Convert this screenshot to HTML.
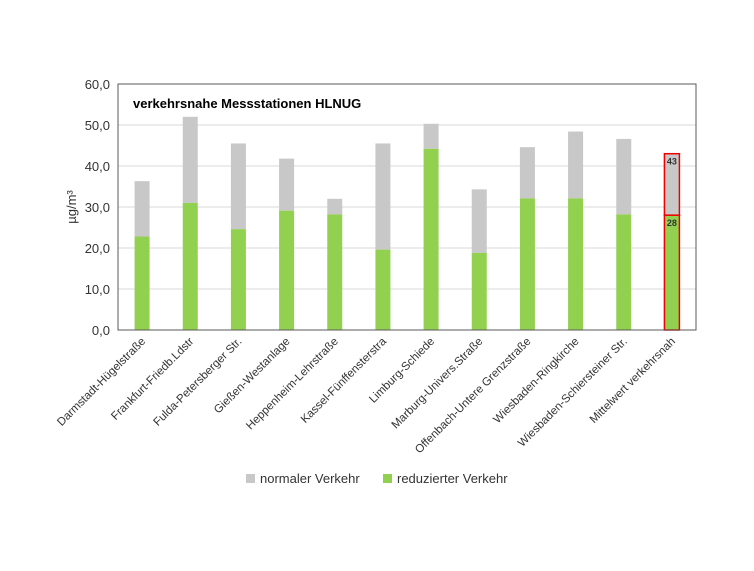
<!DOCTYPE html>
<html><head><meta charset="utf-8"><style>
body{margin:0;background:#fff;font-family:"Liberation Sans",sans-serif}
</style></head><body>
<svg id="c" width="754" height="566" xmlns="http://www.w3.org/2000/svg"></svg>
<script>
const categories=["Darmstadt-Hügelstraße","Frankfurt-Friedb.Ldstr","Fulda-Petersberger Str.","Gießen-Westanlage","Heppenheim-Lehrstraße","Kassel-Fünffensterstra","Limburg-Schiede","Marburg-Univers.Straße","Offenbach-Untere Grenzstraße","Wiesbaden-Ringkirche","Wiesbaden-Schiersteiner Str.","Mittelwert verkehrsnah"];
const normalValues=[36.3,52.0,45.5,41.8,32.0,45.5,50.3,34.3,44.6,48.4,46.6,43];
const reducedValues=[22.8,31.0,24.6,29.1,28.2,19.6,44.2,18.8,32.1,32.1,28.2,28];
const yTicks=["0,0","10,0","20,0","30,0","40,0","50,0","60,0"];
const NS="http://www.w3.org/2000/svg";
const svg=document.getElementById('c');
const L=118,R=696,T=84,B=330,yMax=60;
const y=v=>B-(v/yMax)*(B-T);
const step=(R-L)/categories.length;
const x=i=>L+step*(i+0.5);
function mk(t,a,txt){const e=document.createElementNS(NS,t);for(const k in a)e.setAttribute(k,a[k]);if(txt!==undefined)e.textContent=txt;svg.appendChild(e);return e;}
yTicks.forEach((t,i)=>{const v=i*10;
 const g=mk('line',{x1:L,x2:R,y1:y(v),y2:y(v),stroke:'#d9d9d9','stroke-width':1});
 
 
 const tx=mk('text',{x:L-8,y:y(v)+5,'text-anchor':'end','font-size':13,fill:'#333'},t);
 
 
});
const bw=15;
categories.forEach((c,i)=>{
 const last=i===categories.length-1;
 const g=mk('rect',{x:x(i)-bw/2,y:y(normalValues[i]),width:bw,height:y(reducedValues[i])-y(normalValues[i]),fill:'#c8c8c8',stroke:last?'#e00':'none','stroke-width':1.5});
 
 
 const r=mk('rect',{x:x(i)-bw/2,y:y(reducedValues[i]),width:bw,height:B-y(reducedValues[i]),fill:'#92d050',stroke:last?'#e00':'none','stroke-width':1.5});
 
 
 if(last){
  const a=mk('text',{x:x(i),y:y(normalValues[i])+11,'text-anchor':'middle','font-size':9,'font-weight':'bold',fill:'#333'},String(normalValues[i]));
  
  
  const b=mk('text',{x:x(i),y:y(reducedValues[i])+11,'text-anchor':'middle','font-size':9,'font-weight':'bold',fill:'#333'},String(reducedValues[i]));
  
  
 }
 const t=mk('text',{transform:`translate(${x(i)+4},${B+12}) rotate(-45)`,'text-anchor':'end','font-size':11.5,fill:'#333'},c);
 
 
});
const f=mk('rect',{x:L,y:T,width:R-L,height:B-T,fill:'none',stroke:'#595959','stroke-width':1});


const ti=mk('text',{x:133,y:108,'font-size':13,'font-weight':'bold',fill:'#000'},'verkehrsnahe Messstationen HLNUG');


const yt=mk('text',{transform:`translate(76,207) rotate(-90)`,'text-anchor':'middle','font-size':13,fill:'#333'},'µg/m³');


[[246,'#c8c8c8','normaler Verkehr'],[383,'#92d050','reduzierter Verkehr']].forEach(([lx,col,lab])=>{
 const s=mk('rect',{x:lx,y:474,width:9,height:9,fill:col});
 
 
 const t=mk('text',{x:lx+14,y:483,'font-size':13,fill:'#333'},lab);
 
 
});
</script>
</body></html>
